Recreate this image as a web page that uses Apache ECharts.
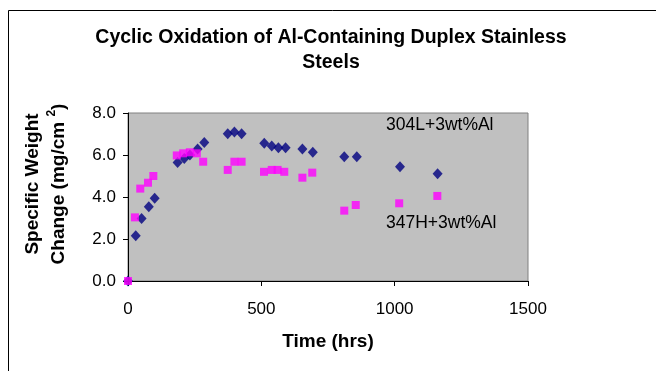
<!DOCTYPE html>
<html><head><meta charset="utf-8">
<script src="https://cdn.jsdelivr.net/npm/echarts@6/dist/echarts.min.js"></script>
<style>html,body{margin:0;padding:0;background:#fff}#c{width:656px;height:371px}</style>
</head><body><div id="c"></div>
<script>
const hours304 = [0, 29, 51, 78, 100, 186, 211, 232, 261, 286, 374, 399, 426, 511, 539, 564, 591, 654, 693, 811, 858, 1020, 1161];
const weight304 = [0, 2.15, 2.98, 3.54, 3.94, 5.64, 5.83, 6.0, 6.29, 6.6, 7.01, 7.1, 7.01, 6.56, 6.43, 6.35, 6.35, 6.29, 6.13, 5.92, 5.92, 5.44, 5.11];
const hours347 = [0, 26, 46, 75, 95, 183, 207, 232, 258, 282, 374, 399, 426, 510, 539, 561, 586, 654, 691, 811, 854, 1017, 1160];
const weight347 = [0, 3.03, 4.40, 4.68, 5.0, 5.98, 6.08, 6.13, 6.08, 5.68, 5.29, 5.68, 5.68, 5.2, 5.29, 5.29, 5.2, 4.92, 5.16, 3.35, 3.62, 3.7, 4.05];
const xTicks = [0, 500, 1000, 1500];
const yTicks = [0, 2, 4, 6, 8];
const seriesNames = ['304L+3wt%Al', '347H+3wt%Al'];

const pairs = (xs, ys) => xs.map((x, i) => [x, ys[i]]);
const F = 'Arial, "Liberation Sans", sans-serif';
const chart = echarts.init(document.getElementById('c'));
chart.setOption({
  animation: false,
  backgroundColor: '#fff',
  title: {
    text: 'Cyclic Oxidation of Al-Containing Duplex Stainless\nSteels',
    left: 331, top: 25, textAlign: 'center', padding: 0,
    textStyle: {fontFamily: F, fontWeight: 'bold', fontSize: 19.5, lineHeight: 25, color: '#000'}
  },
  grid: {left: 128, top: 113, right: 128, bottom: 90, outerBoundsMode: 'none', containLabel: false,
    show: true, backgroundColor: '#C0C0C0', borderColor: '#808080', borderWidth: 1},
  xAxis: {
    type: 'value', min: xTicks[0], max: xTicks[xTicks.length - 1], interval: 500,
    name: 'Time (hrs)', nameLocation: 'middle', nameGap: 51,
    nameTextStyle: {fontFamily: F, fontWeight: 'bold', fontSize: 19, color: '#000'},
    axisLine: {show: true, lineStyle: {color: '#000', width: 1}},
    axisTick: {show: true, inside: false, length: 5, lineStyle: {color: '#000'}},
    axisLabel: {fontFamily: F, fontSize: 17, color: '#000', margin: 20, formatter: v => String(v)},
    splitLine: {show: false}
  },
  yAxis: {
    type: 'value', min: yTicks[0], max: yTicks[yTicks.length - 1], interval: 2,
    name: 'Specific Weight\nChange (mg/cm {sup|2})', nameLocation: 'middle', nameGap: 56, nameRotate: 90,
    nameTextStyle: {fontFamily: F, fontWeight: 'bold', fontSize: 19, lineHeight: 26, color: '#000', padding: [0, 0, 0, 26],
      rich: {sup: {fontFamily: F, fontWeight: 'bold', fontSize: 12, verticalAlign: 'top', lineHeight: 12, padding: [0,0,8,0]}}},
    axisLine: {show: true, lineStyle: {color: '#000', width: 1}},
    axisTick: {show: true, inside: false, length: 5, lineStyle: {color: '#000'}},
    axisLabel: {fontFamily: F, fontSize: 17, color: '#000', margin: 12, formatter: v => v.toFixed(1)},
    splitLine: {show: false}
  },
  graphic: [
    {type: 'rect', shape: {x: 8.5, y: 10.5, width: 700, height: 400}, style: {fill: 'none', stroke: '#000', lineWidth: 1}, z: -1, silent: true},
    {type: 'text', left: 386, top: 116, style: {text: seriesNames[0], font: '17.5px ' + F, fill: '#000'}},
    {type: 'text', left: 386, top: 214, style: {text: seriesNames[1], font: '17.5px ' + F, fill: '#000'}}
  ],
  series: [
    {name: seriesNames[0], type: 'scatter', data: pairs(hours304, weight304), symbol: 'diamond', symbolSize: [10, 11],
     itemStyle: {color: '#000080'}, clip: false, z: 2},
    {name: seriesNames[1], type: 'scatter', data: pairs(hours347, weight347), symbol: 'rect', symbolSize: 8,
     itemStyle: {color: '#FF00FF'}, clip: false, z: 3}
  ]
});
</script></body></html>
